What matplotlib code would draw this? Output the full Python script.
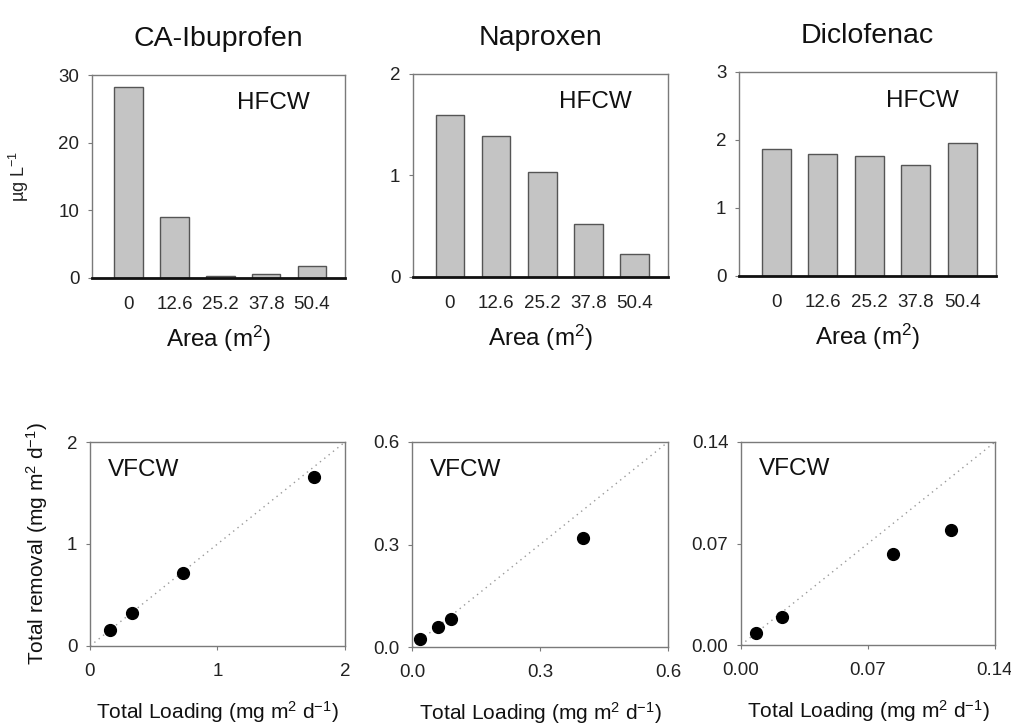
import matplotlib
matplotlib.use('Agg')
import matplotlib.pyplot as plt

plt.rcParams['font.family'] = ['Liberation Sans', 'DejaVu Sans']
plt.rcParams['mathtext.default'] = 'regular'

# ---------------- data ----------------
compounds = ['CA-Ibuprofen', 'Naproxen', 'Diclofenac']
areas = ['0', '12.6', '25.2', '37.8', '50.4']
hfcw_ibu = [28.2, 9.0, 0.35, 0.6, 1.8]
hfcw_nap = [1.60, 1.39, 1.03, 0.52, 0.23]
hfcw_dic = [1.87, 1.79, 1.76, 1.63, 1.96]
bar_ymax = [30, 2, 3]
bar_yticks = [[0, 10, 20, 30], [0, 1, 2], [0, 1, 2, 3]]

vf_load_ibu = [0.16, 0.33, 0.73, 1.76]
vf_rem_ibu = [0.16, 0.32, 0.72, 1.66]
vf_load_nap = [0.019, 0.062, 0.091, 0.40]
vf_rem_nap = [0.023, 0.059, 0.083, 0.32]
vf_load_dic = [0.0083, 0.0228, 0.084, 0.116]
vf_rem_dic = [0.0085, 0.0195, 0.063, 0.079]
scat_lim = [2, 0.6, 0.14]
scat_ticks = [[0, 1, 2], [0, 0.3, 0.6], [0, 0.07, 0.14]]
scat_ticklabels = [['0', '1', '2'], ['0.0', '0.3', '0.6'], ['0.00', '0.07', '0.14']]

# ---------------- figure ----------------
fig = plt.figure(figsize=(10.12, 7.27), dpi=100)

W, H = 1012, 727
def rect(l, r, t, b):
    return [l / W, 1 - b / H, (r - l) / W, (b - t) / H]

top_rects = [rect(92, 345, 75, 278), rect(413, 668, 74, 277), rect(739, 996, 72, 276)]
bot_rects = [rect(90, 345, 442, 646), rect(412, 668, 442, 647), rect(741, 995, 442, 645)]

bar_data = [hfcw_ibu, hfcw_nap, hfcw_dic]
gray_spine = '#7a7a7a'
tick_fs = 13.5

for i in range(3):
    ax = fig.add_axes(top_rects[i])
    pos = list(range(len(areas)))
    ax.bar(pos, bar_data[i], width=0.62, color='#c4c4c4', edgecolor='#555555', linewidth=1.0, zorder=2)
    ax.set_xlim(-0.8, 4.72)
    ax.set_ylim(0, bar_ymax[i])
    ax.set_yticks(bar_yticks[i])
    ax.set_xticks(pos)
    ax.set_xticklabels(areas)
    ax.tick_params(axis='x', length=0, pad=13, labelsize=tick_fs, colors='#222222')
    ax.tick_params(axis='y', length=3, width=0.8, pad=6, labelsize=tick_fs, colors='#222222', color=gray_spine)
    for s in ['left', 'top', 'right']:
        ax.spines[s].set_color(gray_spine)
        ax.spines[s].set_linewidth(1.0)
    ax.spines['bottom'].set_color('#111111')
    ax.spines['bottom'].set_linewidth(2.0)
    ax.set_title(compounds[i], fontsize=20.5, pad=21, color='#111111')
    ax.text(0.715, 0.86, 'HFCW', transform=ax.transAxes, ha='center', va='center', fontsize=17.5, color='#111111')
    ax.set_xlabel('Area (m$^{2}$)', fontsize=17.5, labelpad=8, color='#111111')
    if i == 0:
        ax.set_ylabel('µg L$^{-1}$', fontsize=13, labelpad=20, color='#222222')

scat_x = [vf_load_ibu, vf_load_nap, vf_load_dic]
scat_y = [vf_rem_ibu, vf_rem_nap, vf_rem_dic]

for i in range(3):
    ax = fig.add_axes(bot_rects[i])
    lim = scat_lim[i]
    ax.plot([0, lim], [0, lim], linestyle=(0, (1, 3)), color='#9a9a9a', linewidth=1.0, zorder=1)
    ax.plot(scat_x[i], scat_y[i], 'o', color='black', markersize=8.5, zorder=3)
    ax.set_xlim(0, lim)
    ax.set_ylim(0, lim)
    ax.set_xticks(scat_ticks[i])
    ax.set_xticklabels(scat_ticklabels[i])
    ax.set_yticks(scat_ticks[i])
    ax.set_yticklabels(scat_ticklabels[i])
    ax.tick_params(axis='both', length=3, width=0.8, labelsize=tick_fs, colors='#222222', color=gray_spine)
    ax.tick_params(axis='x', pad=9)
    ax.tick_params(axis='y', pad=6)
    for s in ['left', 'top', 'right', 'bottom']:
        ax.spines[s].set_color(gray_spine)
        ax.spines[s].set_linewidth(1.0)
    ax.text(0.21, 0.865, 'VFCW', transform=ax.transAxes, ha='center', va='center', fontsize=17.5, color='#111111')
    ax.set_xlabel('Total Loading (mg m$^{2}$ d$^{-1}$)', fontsize=15, labelpad=14, color='#111111')
    if i == 0:
        ax.set_ylabel('Total removal (mg m$^{2}$ d$^{-1}$)', fontsize=15, labelpad=12, color='#111111')

fig.savefig('out.png', dpi=100)
